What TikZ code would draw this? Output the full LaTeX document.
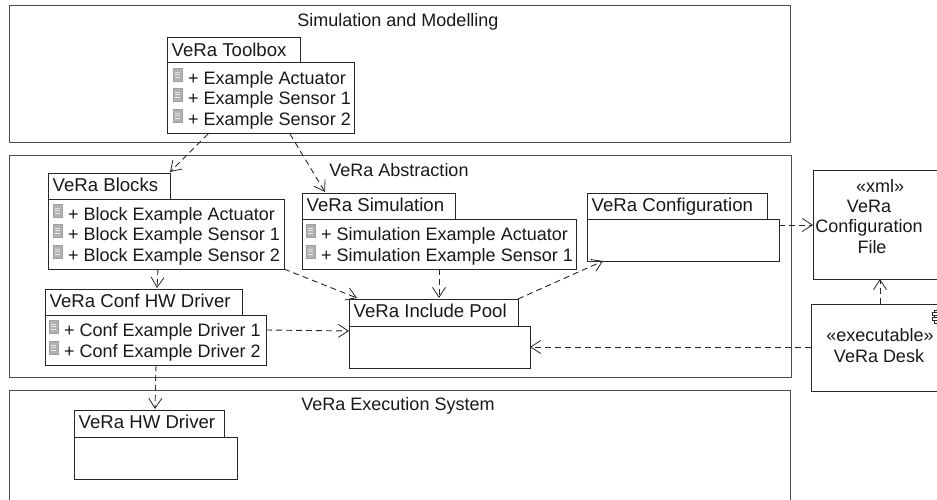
\documentclass[tikz,border=0pt]{standalone}
\usepackage{fontspec}
\setmainfont{Liberation Sans}
\usetikzlibrary{arrows.meta}
\newcommand{\pkg}[8]{% name,title,x0,y0,tabx1,taby1,x1,y1
  \node[boxstyle,anchor=north west,minimum width=#7pt-#3pt,minimum height=#8pt-#6pt] (#1) at (#3,#6) {};
  \node[boxstyle,anchor=south west,minimum width=#5pt-#3pt,minimum height=#6pt-#4pt] (#1tab) at (#3,#6) {};
  \node[titletxt] (#1title) at (#3+4.5,#4+18.5) {#2};}
\newcommand{\rowitem}[4]{% name,x,y,text
  \node[icon] (#1i) at (#2+4.5,#3-3) {};
  \draw[gray!20,line width=.6pt] (#2+2,#3-6) -- (#2+7,#3-6) (#2+2,#3-3.5) -- (#2+7,#3-3.5) (#2+2,#3-1) -- (#2+7,#3-1);
  \node[txt] (#1) at (#2+15,#3+6.5) {+ #4};}
\tikzset{
  x=1pt,y=-1pt,
  boxstyle/.style={draw=black!85,line width=1pt,fill=white,inner sep=0pt,outer sep=0pt},
  frame/.style={draw=black!70,line width=1pt,inner sep=0pt,outer sep=0pt},
  txt/.style={anchor=base west,inner sep=0pt,font=\fontsize{18}{20}\selectfont,text=black!90},
  titletxt/.style={anchor=base west,inner sep=0pt,font=\fontsize{18.6}{20}\selectfont,text=black!90},
  ctxt/.style={anchor=base,inner sep=0pt,font=\fontsize{18}{20}\selectfont,text=black!90},
  icon/.style={draw=gray!75,fill=gray!60,line width=.5pt,minimum width=9pt,minimum height=13pt,inner sep=0pt},
  dep/.style={draw=black!85,line width=.9pt,dash pattern=on 6pt off 4pt,-{Straight Barb[length=10pt,width=13pt,line width=.8pt]}},
  compart/.style={draw=black!85,line width=.8pt,inner sep=0pt},
}
\begin{document}
\begin{tikzpicture}
\useasboundingbox (0,0) rectangle (937,500);
\clip (0,0) rectangle (937,500);
\node[frame,anchor=north west,minimum width=781pt,minimum height=137pt] (sim) at (9,6) {};
\node[frame,anchor=north west,minimum width=782pt,minimum height=221pt] (abs) at (9,156) {};
\node[frame,anchor=north west,minimum width=781pt,minimum height=120pt] (exe) at (9,390) {};
\node[ctxt] (simt) at (398,27) {Simulation and Modelling};
\node[ctxt] (abst) at (399,176) {VeRa Abstraction};
\node[ctxt] (exet) at (398,410) {VeRa Execution System};

\pkg{toolbox}{VeRa Toolbox}{167}{38}{300}{63}{354}{134}
\rowitem{ta}{173}{78}{Example Actuator}
\rowitem{tb}{173}{98}{Example Sensor 1}
\rowitem{tc}{173}{119}{Example Sensor 2}

\pkg{blocks}{VeRa Blocks}{48}{173}{170}{199}{284}{269}
\rowitem{ba}{53}{214}{Block Example Actuator}
\rowitem{bb}{53}{234}{Block Example Sensor 1}
\rowitem{bc}{53}{255}{Block Example Sensor 2}

\pkg{conf}{VeRa Conf HW Driver}{45}{289}{242}{315}{266}{365}
\rowitem{ca}{49}{330}{Conf Example Driver 1}
\rowitem{cb}{49}{351}{Conf Example Driver 2}

\pkg{simu}{VeRa Simulation}{302}{193}{455}{219}{576}{269}
\rowitem{sa}{306}{234}{Simulation Example Actuator}
\rowitem{sb}{306}{255}{Simulation Example Sensor 1}

\pkg{cfg}{VeRa Configuration}{587}{193}{767}{219}{779}{261}
\pkg{pool}{VeRa Include Pool}{349}{299}{518}{326}{530}{368}
\pkg{hw}{VeRa HW Driver}{74}{410}{224}{437}{237}{479}

\node[boxstyle,anchor=north west,minimum width=140pt,minimum height=109pt] (xml) at (813,170) {};
\node[ctxt] (xmla) at (880,192) {«xml»};
\node[ctxt] (xmlb) at (869,212) {VeRa};
\node[ctxt] (xmlc) at (869,232) {Configuration};
\node[ctxt] (xmld) at (872,253) {File};

\node[boxstyle,anchor=north west,minimum width=140pt,minimum height=87pt] (desk) at (811,304) {};
\node[ctxt] (deska) at (880,341) {«executable»};
\node[ctxt] (deskb) at (879,362) {VeRa Desk};
\node[compart,minimum width=8pt,minimum height=13pt,anchor=north west] (ico) at (934,310) {};
\node[compart,fill=white,minimum width=5pt,minimum height=3pt] (icoa) at (934.5,314) {};
\node[compart,fill=white,minimum width=5pt,minimum height=3pt] (icob) at (934.5,319) {};

\draw[dep] ([xshift=41pt]toolbox.south west) -- ([yshift=1pt]blockstab.north east);
\draw[dep] ([xshift=123pt]toolbox.south west) -- ([xshift=23pt,yshift=1pt]simutab.north west);
\draw[dep] ([xshift=110pt]blocks.south west) -- ([xshift=112pt,yshift=1pt]conftab.north west);
\draw[dep] (blocks.south east) -- ([xshift=8pt,yshift=1pt]pooltab.north west);
\draw[dep] ([yshift=-15pt]conf.north east) -- ([yshift=-5pt]pool.north west);
\draw[dep] ([xshift=111pt]conf.south west) -- ([xshift=81pt,yshift=1pt]hwtab.north west);
\draw[dep] ([xshift=137pt]simu.south west) -- ([xshift=90pt,yshift=1pt]pooltab.north west);
\draw[dep] (pooltab.north east) -- ([xshift=16pt]cfg.south west);
\draw[dep] ([yshift=-6pt]cfg.north east) -- ([yshift=-55pt]xml.north west);
\draw[dep] ([yshift=-43pt]desk.north west) -- ([yshift=-21pt]pool.north east);
\draw[dep] ([xshift=69pt]desk.north west) -- ([xshift=67pt]xml.south west);
\end{tikzpicture}
\end{document}
